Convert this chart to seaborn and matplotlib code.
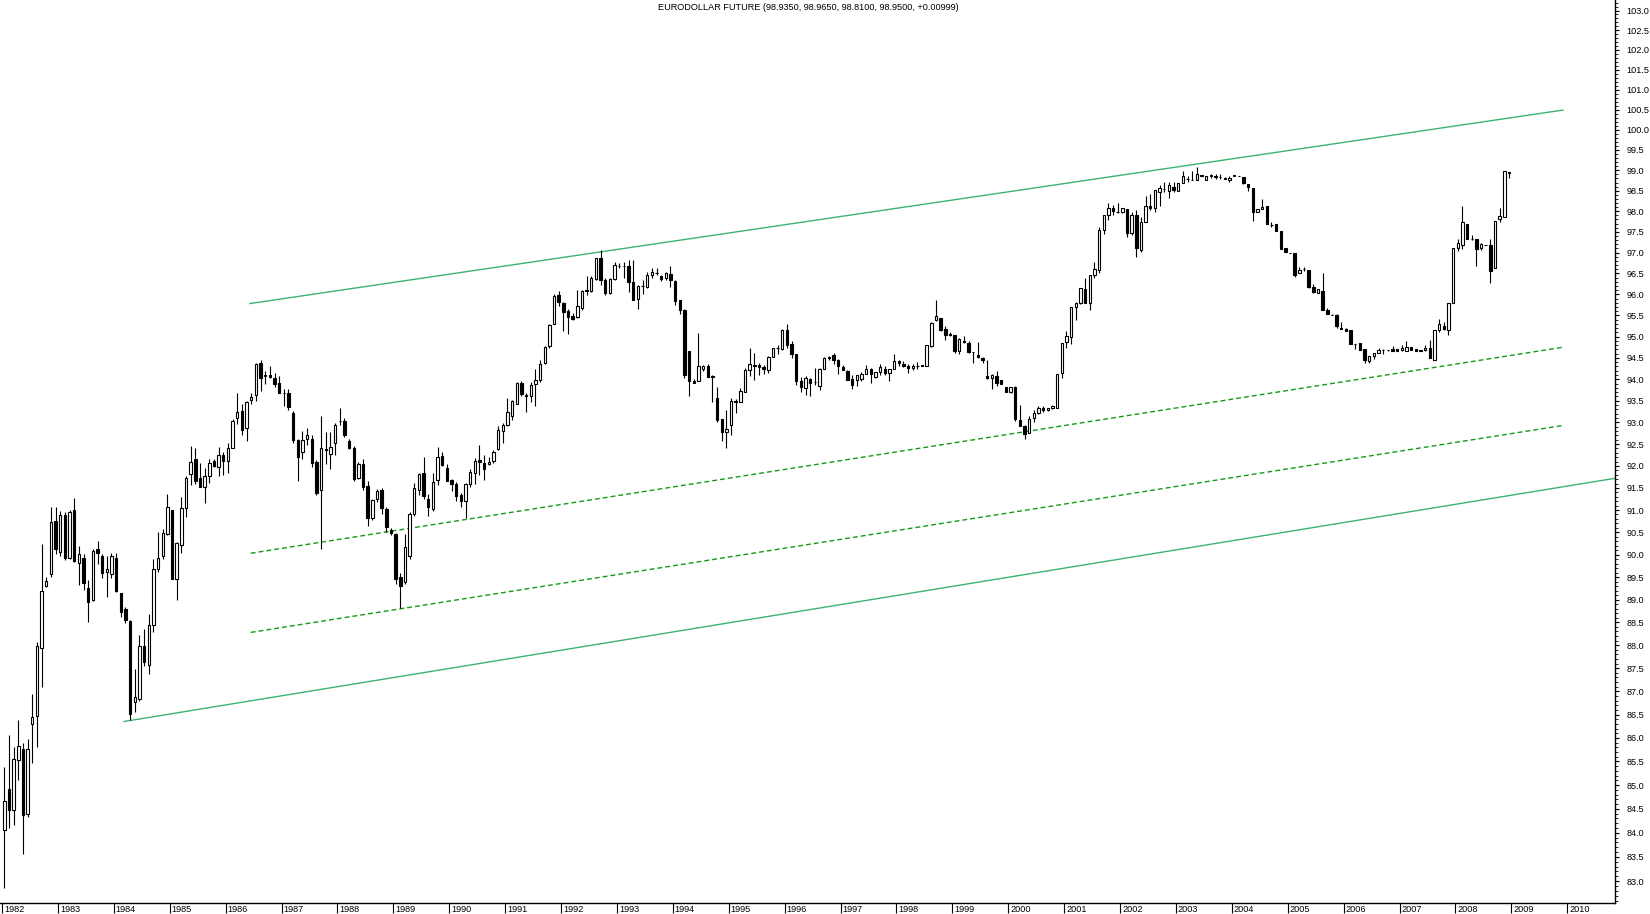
import matplotlib
matplotlib.use("Agg")
import matplotlib.pyplot as plt
import matplotlib.transforms as mtransforms
from matplotlib.ticker import FixedLocator, FormatStrFormatter, NullFormatter
import numpy as np
import pandas as pd
import seaborn as sns

# ---------------- data (monthly candles, Jan 1982 .. Dec 2008) ----------------
start_month = "1982-01"

opens = [
    84.05, 84.92, 84.48, 85.53, 85.76, 84.40, 86.30, 86.46, 87.93, 89.30, 89.56, 90.75,
    90.06, 90.88, 89.93, 91.01, 89.82, 89.93, 89.25, 88.99, 90.13, 89.97, 89.62, 89.56,
    89.93, 89.14, 88.79, 88.53, 86.76, 86.83, 87.98, 87.56, 88.44, 89.67, 89.97, 90.47,
    91.00, 89.45, 90.21, 91.04, 91.81, 92.15, 91.72, 91.53, 91.78, 92.11, 91.97, 92.24,
    92.12, 92.42, 93.10, 93.27, 92.86, 93.52, 93.63, 94.37, 94.07, 94.11, 94.04, 93.91,
    93.69, 93.69, 93.22, 92.59, 92.31, 92.61, 92.61, 92.09, 91.45, 92.38, 92.28, 92.53,
    93.03, 93.03, 92.58, 92.42, 91.73, 92.04, 91.54, 90.81, 91.26, 91.45, 91.02, 90.55,
    90.46, 89.51, 89.38, 89.96, 90.92, 91.45, 91.83, 91.26, 91.03, 91.68, 92.23, 91.96,
    91.68, 91.59, 91.33, 91.21, 91.59, 91.83, 92.13, 92.07, 92.05, 92.11, 92.38, 92.80,
    92.95, 93.14, 93.43, 93.92, 93.63, 93.61, 93.88, 93.99, 94.37, 94.77, 95.29, 95.98,
    95.80, 95.60, 95.48, 95.47, 95.68, 96.10, 96.08, 96.36, 96.86, 96.34, 96.04, 96.36,
    96.68, 96.67, 96.68, 96.30, 95.89, 96.20, 96.18, 96.46, 96.50, 96.44, 96.39, 96.49,
    96.32, 95.86, 95.62, 94.65, 93.97, 93.97, 94.25, 94.32, 94.08, 93.57, 93.07, 92.77,
    92.93, 93.50, 93.47, 93.70, 94.22, 94.32, 94.33, 94.29, 94.21, 94.53, 94.72, 94.70,
    95.15, 94.83, 94.59, 93.95, 93.79, 94.00, 93.93, 93.85, 94.24, 94.53, 94.56, 94.46,
    94.29, 94.20, 94.01, 93.99, 94.01, 94.13, 94.25, 94.05, 94.16, 94.25, 94.15, 94.24,
    94.42, 94.36, 94.31, 94.26, 94.31, 94.34, 94.31, 94.77, 95.38, 95.43, 95.18, 95.06,
    95.04, 94.65, 94.90, 94.85, 94.63, 94.57, 94.49, 94.07, 94.03, 94.07, 93.99, 93.82,
    93.70, 93.81, 93.06, 92.92, 92.76, 93.09, 93.21, 93.33, 93.28, 93.33, 93.33, 94.14,
    94.88, 94.98, 95.71, 95.79, 96.12, 95.80, 96.47, 96.58, 97.54, 97.91, 98.07, 97.99,
    97.97, 98.05, 97.48, 97.92, 97.06, 97.74, 98.13, 98.07, 98.46, 98.54, 98.49, 98.58,
    98.50, 98.68, 98.78, 98.77, 98.76, 98.89, 98.77, 98.85, 98.87, 98.84, 98.80, 98.76,
    98.85, 98.87, 98.83, 98.66, 98.56, 97.99, 98.05, 98.13, 97.66, 97.68, 97.53, 97.10,
    97.00, 96.98, 96.51, 96.61, 96.59, 96.17, 96.04, 96.09, 95.64, 95.52, 95.51, 95.20,
    95.18, 95.15, 94.83, 94.84, 94.70, 94.43, 94.54, 94.62, 94.68, 94.68, 94.70, 94.70,
    94.68, 94.66, 94.75, 94.70, 94.69, 94.68, 94.74, 94.44, 95.15, 95.26, 95.15, 95.80,
    97.10, 97.18, 97.68, 97.33, 97.33, 97.10, 97.18, 97.19, 96.63, 97.81, 97.87, 98.935,
]

highs = [
    85.38, 86.07, 85.81, 86.38, 85.90, 85.97, 86.95, 88.07, 90.23, 89.50, 91.07, 91.07,
    90.98, 90.96, 91.00, 91.27, 90.19, 90.02, 89.43, 90.13, 90.30, 90.02, 89.97, 90.04,
    90.04, 89.15, 88.84, 88.55, 87.49, 88.22, 88.35, 88.69, 89.91, 90.51, 90.58, 91.37,
    91.00, 90.28, 91.30, 91.76, 92.46, 92.40, 92.06, 91.95, 92.15, 92.17, 92.44, 92.32,
    92.52, 93.07, 93.69, 93.42, 93.50, 93.67, 94.37, 94.44, 94.20, 94.30, 94.15, 94.07,
    93.78, 93.78, 93.27, 92.62, 92.79, 92.87, 92.70, 92.13, 93.14, 92.78, 92.78, 92.98,
    93.34, 93.10, 92.62, 92.46, 92.08, 92.16, 91.66, 91.24, 91.48, 91.49, 91.06, 90.60,
    90.48, 89.60, 90.45, 90.95, 91.62, 91.84, 92.20, 91.36, 91.83, 92.44, 92.31, 92.05,
    91.70, 91.63, 91.38, 91.62, 91.92, 92.18, 92.49, 92.24, 92.20, 92.36, 92.92, 92.99,
    93.56, 93.51, 93.94, 93.96, 93.69, 93.94, 94.24, 94.45, 94.78, 95.30, 96.00, 96.09,
    95.82, 95.65, 95.55, 96.10, 96.10, 96.44, 96.44, 96.88, 97.05, 96.40, 96.40, 96.78,
    96.75, 96.78, 96.82, 96.82, 96.23, 96.35, 96.54, 96.62, 96.62, 96.46, 96.54, 96.67,
    96.34, 95.86, 95.65, 94.65, 94.00, 95.08, 94.34, 94.36, 94.11, 93.82, 93.07, 93.28,
    93.57, 93.54, 93.79, 94.27, 94.73, 94.62, 94.37, 94.33, 94.55, 94.74, 94.79, 95.18,
    95.30, 94.89, 94.59, 94.06, 94.07, 94.03, 94.27, 94.26, 94.51, 94.55, 94.62, 94.47,
    94.33, 94.21, 94.09, 94.09, 94.17, 94.34, 94.27, 94.17, 94.36, 94.30, 94.25, 94.58,
    94.46, 94.42, 94.36, 94.36, 94.41, 94.34, 94.79, 95.34, 95.87, 95.45, 95.24, 95.10,
    95.04, 94.97, 95.02, 94.90, 94.63, 94.88, 94.51, 94.46, 94.13, 94.20, 93.99, 93.82,
    93.82, 93.85, 93.39, 92.95, 93.15, 93.28, 93.37, 93.37, 93.33, 93.39, 94.13, 94.86,
    95.14, 95.70, 95.82, 96.14, 96.40, 96.47, 96.77, 97.61, 97.91, 98.19, 98.15, 98.19,
    98.07, 98.05, 97.98, 98.02, 97.86, 98.37, 98.43, 98.51, 98.64, 98.72, 98.72, 98.72,
    98.70, 98.97, 98.86, 98.97, 99.07, 98.89, 98.85, 98.90, 98.90, 98.90, 98.84, 98.86,
    98.88, 98.87, 98.83, 98.66, 98.56, 98.05, 98.29, 98.13, 97.74, 97.68, 97.53, 97.10,
    97.00, 96.98, 96.65, 96.65, 96.59, 96.24, 96.12, 96.50, 95.67, 95.54, 95.54, 95.35,
    95.20, 95.15, 94.83, 94.84, 94.70, 94.54, 94.62, 94.72, 94.70, 94.68, 94.78, 94.70,
    94.80, 94.89, 94.75, 94.70, 94.69, 94.81, 94.92, 95.15, 95.42, 95.35, 95.80, 97.12,
    97.33, 98.13, 97.68, 97.43, 97.33, 97.22, 97.18, 97.33, 97.77, 98.07, 98.97, 98.965,
]

lows = [
    82.86, 84.09, 84.16, 85.10, 83.55, 84.33, 85.46, 85.81, 87.10, 89.27, 89.50, 90.02,
    89.96, 89.87, 89.90, 89.83, 89.33, 89.21, 88.51, 88.98, 89.79, 89.47, 89.06, 89.49,
    89.16, 88.61, 88.48, 86.38, 86.56, 86.79, 87.54, 87.38, 88.29, 89.62, 89.91, 90.43,
    89.45, 88.99, 90.04, 90.84, 91.57, 91.58, 91.51, 91.15, 91.61, 91.97, 91.77, 91.80,
    91.85, 92.40, 92.97, 92.71, 92.58, 93.42, 93.50, 93.73, 93.88, 94.02, 93.81, 93.69,
    93.38, 93.28, 92.52, 91.65, 92.15, 92.47, 91.98, 91.33, 90.13, 92.05, 91.93, 92.25,
    92.93, 92.66, 92.38, 91.65, 91.71, 91.46, 90.64, 90.78, 91.18, 90.90, 90.50, 90.44,
    89.34, 88.82, 89.35, 89.90, 90.87, 91.35, 91.25, 90.86, 90.98, 91.57, 92.00, 91.65,
    91.44, 91.20, 91.06, 90.82, 91.53, 91.59, 91.79, 91.69, 92.02, 92.07, 92.36, 92.52,
    92.92, 93.06, 93.43, 93.61, 93.23, 93.47, 93.37, 93.94, 94.35, 94.72, 95.29, 95.72,
    95.13, 95.06, 95.39, 95.45, 95.64, 95.98, 96.06, 96.35, 96.23, 95.98, 96.02, 96.34,
    96.62, 96.40, 96.06, 95.87, 95.66, 96.02, 96.15, 96.38, 96.47, 96.33, 96.35, 96.18,
    95.74, 95.54, 94.04, 93.61, 93.92, 93.97, 94.20, 94.05, 93.48, 93.00, 92.56, 92.42,
    92.72, 93.21, 93.47, 93.70, 94.08, 93.99, 94.11, 94.12, 94.15, 94.51, 94.60, 94.68,
    94.73, 94.49, 93.87, 93.71, 93.63, 93.60, 93.86, 93.76, 94.23, 94.45, 94.35, 94.12,
    94.21, 93.99, 93.77, 93.84, 93.95, 94.12, 93.91, 94.04, 94.11, 94.10, 93.97, 94.23,
    94.31, 94.28, 94.14, 94.22, 94.25, 94.30, 94.31, 94.75, 95.36, 95.13, 94.91, 95.02,
    94.61, 94.60, 94.84, 94.61, 94.39, 94.50, 94.39, 94.01, 93.78, 93.85, 93.89, 93.70,
    93.68, 93.03, 92.92, 92.62, 92.75, 93.02, 93.20, 93.25, 93.27, 93.30, 93.33, 94.02,
    94.74, 94.83, 95.40, 95.78, 95.80, 95.62, 96.38, 96.50, 97.44, 97.79, 97.91, 97.95,
    97.96, 97.38, 97.43, 96.90, 97.02, 97.74, 98.02, 97.99, 98.13, 98.46, 98.31, 98.46,
    98.50, 98.68, 98.72, 98.76, 98.76, 98.85, 98.75, 98.81, 98.78, 98.78, 98.78, 98.72,
    98.85, 98.87, 98.66, 98.50, 97.76, 97.97, 98.05, 97.68, 97.62, 97.53, 97.08, 97.02,
    96.98, 96.42, 96.51, 96.55, 96.14, 96.04, 96.04, 95.64, 95.54, 95.50, 95.20, 95.17,
    95.13, 94.82, 94.70, 94.68, 94.38, 94.38, 94.48, 94.62, 94.60, 94.67, 94.66, 94.65,
    94.66, 94.66, 94.68, 94.66, 94.66, 94.66, 94.49, 94.44, 95.11, 95.15, 95.03, 95.80,
    97.03, 97.09, 97.32, 97.30, 96.68, 97.05, 97.18, 96.26, 96.63, 97.74, 97.87, 98.81,
]

closes = [
    84.67, 84.48, 85.56, 85.83, 84.37, 85.76, 86.45, 87.98, 89.19, 89.42, 90.72, 90.13,
    90.88, 89.92, 90.96, 89.85, 90.01, 89.36, 88.95, 90.08, 90.03, 89.59, 89.67, 89.97,
    89.20, 88.73, 88.56, 86.52, 86.88, 87.98, 87.63, 88.44, 89.69, 89.92, 90.49, 91.07,
    89.45, 90.25, 91.05, 91.72, 92.08, 91.66, 91.53, 91.78, 92.06, 92.01, 92.26, 92.12,
    92.40, 93.04, 93.25, 92.83, 93.47, 93.58, 94.36, 94.02, 94.11, 94.06, 93.89, 93.69,
    93.67, 93.36, 92.60, 92.20, 92.59, 92.70, 92.07, 91.39, 92.42, 92.36, 92.44, 92.94,
    93.03, 92.72, 92.42, 91.71, 92.05, 91.53, 90.81, 91.22, 91.43, 91.05, 90.62, 90.48,
    89.46, 89.31, 90.16, 90.92, 91.49, 91.82, 91.32, 91.06, 91.63, 92.21, 92.02, 91.66,
    91.59, 91.32, 91.21, 91.58, 91.86, 92.11, 92.08, 91.94, 92.10, 92.31, 92.82, 92.95,
    93.24, 93.49, 93.92, 93.65, 93.61, 93.86, 93.99, 94.35, 94.76, 95.28, 95.96, 95.82,
    95.58, 95.47, 95.41, 95.72, 96.07, 96.07, 96.38, 96.86, 96.34, 96.04, 96.36, 96.70,
    96.67, 96.68, 96.30, 95.87, 96.19, 96.20, 96.46, 96.54, 96.50, 96.37, 96.51, 96.34,
    95.85, 95.64, 94.11, 93.97, 93.92, 94.30, 94.30, 94.05, 94.05, 93.05, 92.78, 92.85,
    93.50, 93.48, 93.72, 94.22, 94.35, 94.33, 94.29, 94.23, 94.52, 94.72, 94.72, 95.16,
    94.80, 94.60, 93.97, 93.82, 94.02, 93.92, 93.93, 94.24, 94.49, 94.50, 94.45, 94.30,
    94.22, 93.99, 93.87, 94.09, 94.13, 94.25, 94.13, 94.17, 94.29, 94.15, 94.25, 94.43,
    94.38, 94.30, 94.26, 94.31, 94.31, 94.30, 94.79, 95.31, 95.49, 95.16, 95.04, 95.04,
    94.65, 94.94, 94.87, 94.63, 94.63, 94.52, 94.46, 94.03, 94.10, 93.91, 93.89, 93.70,
    93.82, 93.07, 92.92, 92.74, 93.08, 93.21, 93.34, 93.28, 93.33, 93.38, 94.13, 94.84,
    95.01, 95.69, 95.79, 96.14, 95.80, 96.47, 96.60, 97.54, 97.91, 98.07, 98.01, 97.98,
    98.07, 97.48, 97.92, 97.10, 97.74, 98.13, 98.07, 98.51, 98.56, 98.54, 98.63, 98.51,
    98.68, 98.86, 98.78, 98.77, 98.92, 98.85, 98.85, 98.88, 98.83, 98.84, 98.78, 98.81,
    98.88, 98.87, 98.68, 98.60, 97.99, 98.05, 98.11, 97.68, 97.66, 97.53, 97.08, 97.02,
    96.98, 96.46, 96.57, 96.61, 96.18, 96.05, 96.12, 95.64, 95.54, 95.52, 95.25, 95.17,
    95.13, 94.82, 94.83, 94.68, 94.45, 94.54, 94.62, 94.68, 94.68, 94.68, 94.66, 94.65,
    94.74, 94.76, 94.68, 94.66, 94.66, 94.74, 94.49, 95.15, 95.29, 95.18, 95.80, 97.10,
    97.22, 97.73, 97.33, 97.33, 97.09, 97.21, 97.18, 96.55, 97.77, 97.89, 98.97, 98.95,
]

title_text = "EURODOLLAR FUTURE (98.9350, 98.9650, 98.8100, 98.9500, +0.00999)"
year_labels = [str(y) for y in range(1982, 2011)]
y_major_ticks = [round(83.0 + 0.5 * k, 1) for k in range(41)]
y_minor_ticks = [round(82.6 + 0.1 * k, 1) for k in range(207)]

# channel lines: (time in years, price)
upper_t, upper_p = [1986.43, 2009.93], [95.78, 100.49]
lower_t, lower_p = [1984.18, 2010.86], [86.35, 91.72]
mid1_t, mid1_p = [1986.45, 2009.93], [90.03, 94.75]
mid2_t, mid2_p = [1986.45, 2009.93], [88.28, 92.93]

# ---------------- figure ----------------
sns.set_theme(style="white")
plt.rcParams["font.family"] = ["Liberation Sans", "DejaVu Sans"]

W, H = 1650, 914
fig = plt.figure(figsize=(W / 100, H / 100), dpi=100, facecolor="white")
ax = fig.add_axes([0, 11 / H, 1615 / W, 903 / H])
ax.set_facecolor("white")
ax.set_yscale("log")

df = pd.DataFrame({
    "date": pd.date_range(start_month, periods=len(opens), freq="MS"),
    "open": opens, "high": highs, "low": lows, "close": closes,
})
df["t"] = df["date"].dt.year + (df["date"].dt.month - 0.5) / 12.0
up = df["close"] >= df["open"]

ax.vlines(df["t"], df["low"], df["high"], color="black", lw=0.8, zorder=2)
body_w = 0.043
ax.bar(df.loc[up, "t"], (df["close"] - df["open"])[up], bottom=df.loc[up, "open"],
       width=body_w, facecolor="white", edgecolor="black", linewidth=0.8, zorder=3)
ax.bar(df.loc[~up, "t"], (df["open"] - df["close"])[~up], bottom=df.loc[~up, "close"],
       width=body_w, facecolor="black", edgecolor="black", linewidth=0.8, zorder=3)

solid_col = "#3cb371"
dash_col = "#139a13"
sns.lineplot(x=upper_t, y=upper_p, ax=ax, color=solid_col, lw=1.0, zorder=1)
sns.lineplot(x=lower_t, y=lower_p, ax=ax, color=solid_col, lw=1.0, zorder=1)
sns.lineplot(x=mid1_t, y=mid1_p, ax=ax, color=dash_col, lw=1.0, zorder=1,
             linestyle=(0, (3.5, 2.2)))
sns.lineplot(x=mid2_t, y=mid2_p, ax=ax, color=dash_col, lw=1.0, zorder=1,
             linestyle=(0, (3.5, 2.2)))

ax.set_xlim(1981.964, 2010.855)
ax.set_ylim(82.55, 103.27)
ax.set_xlabel("")
ax.set_ylabel("")

for s in ["left", "top"]:
    ax.spines[s].set_visible(False)
for s in ["right", "bottom"]:
    ax.spines[s].set_visible(True)
    ax.spines[s].set_color("black")
    ax.spines[s].set_linewidth(1.0)

# y axis on right
ax.yaxis.tick_right()
ax.yaxis.set_major_locator(FixedLocator(y_major_ticks))
ax.yaxis.set_major_formatter(FormatStrFormatter("%.1f"))
ax.yaxis.set_minor_locator(FixedLocator(y_minor_ticks))
ax.yaxis.set_minor_formatter(NullFormatter())
ax.tick_params(axis="y", which="major", right=True, left=False, length=3.2, width=0.8,
               direction="out", labelsize=6.6, pad=5, colors="black")
ax.tick_params(axis="y", which="minor", right=True, left=False, length=1.8, width=0.7,
               direction="out")

# x axis: year ticks, labels to the right of each tick
year_pos = [float(y) for y in year_labels]
ax.set_xticks(year_pos)
ax.set_xticklabels(year_labels)
ax.xaxis.set_minor_locator(FixedLocator([]))
ax.tick_params(axis="x", which="major", bottom=True, length=7.5, width=0.8,
               direction="out", labelsize=6.6, pad=-6.3, colors="black")
offset = mtransforms.ScaledTranslation(2 / 100, 0, fig.dpi_scale_trans)
for lab in ax.get_xticklabels():
    lab.set_horizontalalignment("left")
    lab.set_transform(lab.get_transform() + offset)

ax.grid(False)

fig.text(808 / W, 1 - 7 / H, title_text, ha="center", va="center", fontsize=6.6,
         color="black")

fig.savefig("out.png", dpi=100, facecolor="white")
